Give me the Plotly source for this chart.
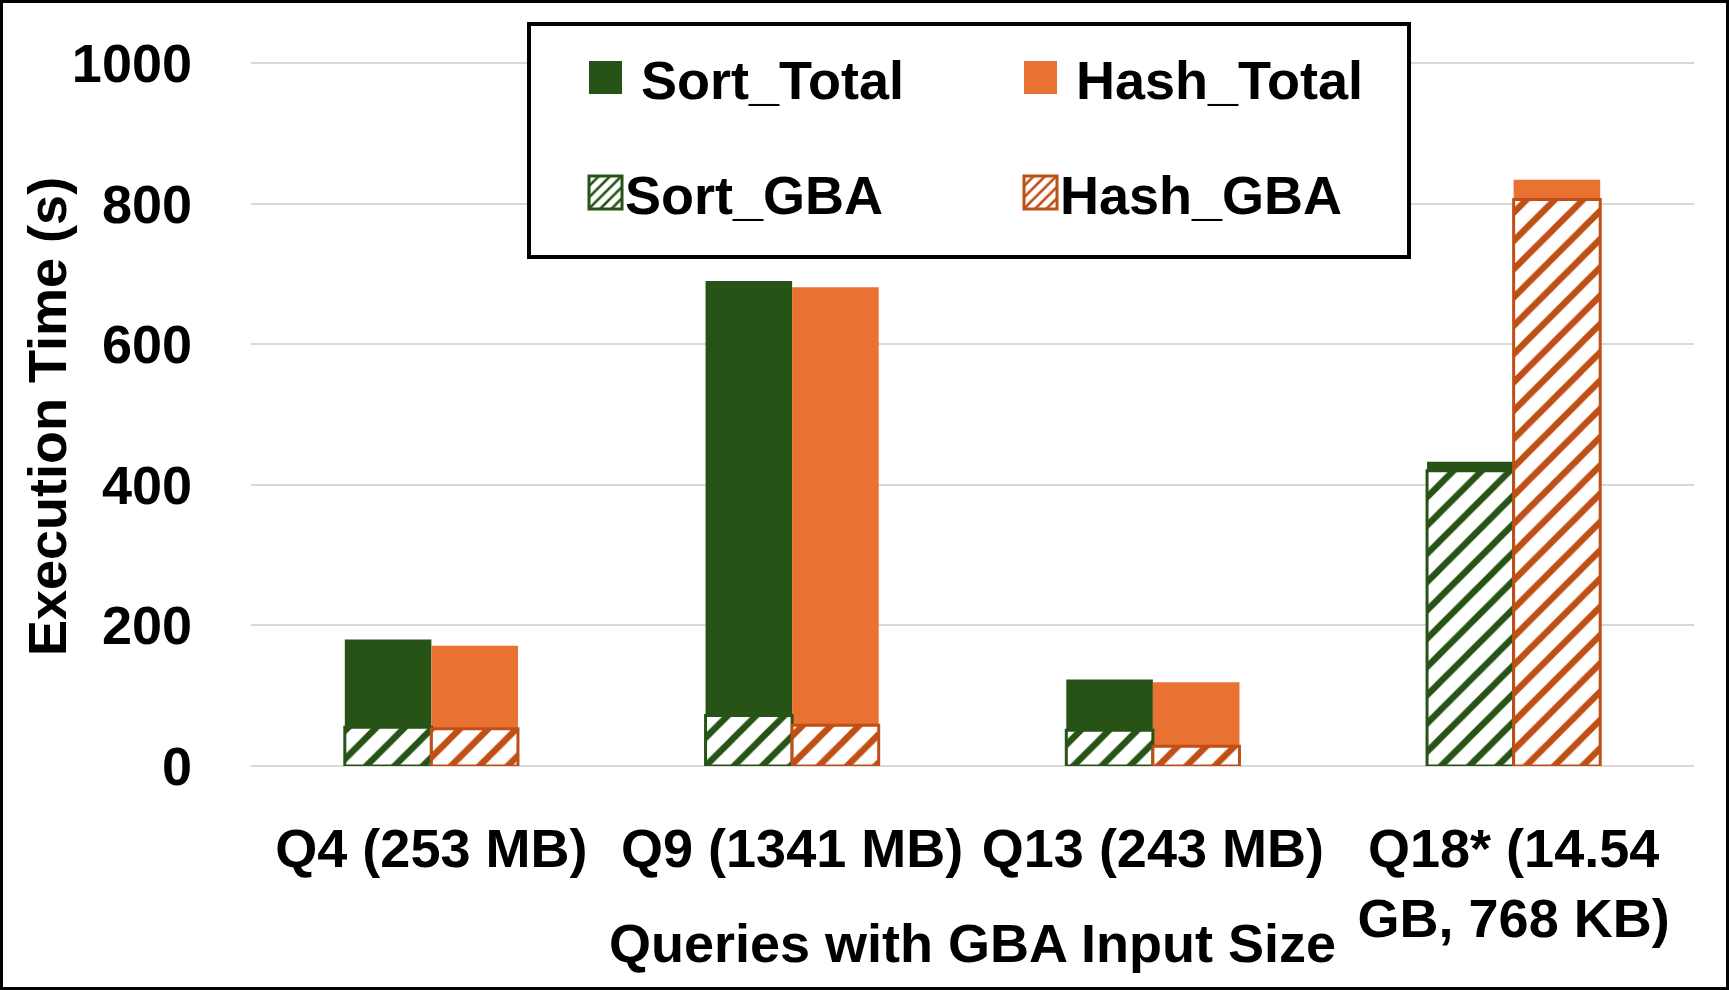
import plotly.graph_objects as go

categories = ["Q4 (253 MB)", "Q9 (1341 MB)", "Q13 (243 MB)", "Q18* (14.54<br>GB, 768 KB)"]
sort_total = [180, 690, 123, 433]
hash_total = [171, 681, 119, 834]
sort_gba = [55, 72, 51, 420]
hash_gba = [53, 58, 28, 806]

y_ticks = [0, 200, 400, 600, 800, 1000]

GREEN = "#275317"
ORANGE = "#E97132"
ORANGE_DARK = "#C04F15"

W, H = 1729, 990
ML, MR, MT, MB = 251, 35, 61, 224
PW, PH = W - ML - MR, H - MT - MB


def px_to_paper_x(px):
    return (px - ML) / PW


def px_to_paper_y(py):
    return (H - MB - py) / PH


FONT = dict(family="Liberation Sans, Arial, sans-serif", size=54, color="black", weight="bold")

fig = go.Figure()
fig.add_trace(go.Bar(name="Sort_Total", x=categories, y=sort_total, offsetgroup="sort",
                     marker=dict(color=GREEN, line=dict(width=0)), legend="legend"))
fig.add_trace(go.Bar(name="Hash_Total", x=categories, y=hash_total, offsetgroup="hash",
                     marker=dict(color=ORANGE, line=dict(width=0)), legend="legend"))
fig.add_trace(go.Bar(name="Sort_GBA", x=categories, y=sort_gba, offsetgroup="sort",
                     marker=dict(color=GREEN, line=dict(width=3, color=GREEN),
                                 pattern=dict(shape="/", size=20, solidity=0.32,
                                              fgcolor=GREEN, bgcolor="white", fillmode="replace")),
                     legend="legend2"))
fig.add_trace(go.Bar(name="Hash_GBA", x=categories, y=hash_gba, offsetgroup="hash",
                     marker=dict(color=ORANGE_DARK, line=dict(width=3, color=ORANGE_DARK),
                                 pattern=dict(shape="/", size=20, solidity=0.32,
                                              fgcolor=ORANGE_DARK, bgcolor="white", fillmode="replace")),
                     legend="legend2"))

legend_common = dict(orientation="h", xref="container", yref="container",
                     xanchor="left", yanchor="top", entrywidth=390,
                     bgcolor="rgba(0,0,0,0)", borderwidth=0, font=FONT)

fig.update_layout(
    width=W, height=H,
    margin=dict(l=ML, r=MR, t=MT, b=MB, pad=0, autoexpand=False),
    paper_bgcolor="white", plot_bgcolor="white",
    font=FONT,
    barmode="group", bargap=0.52, bargroupgap=0,
    legend=dict(x=585 / W, y=1 - 36 / H, **legend_common),
    legend2=dict(x=585 / W, y=1 - 151 / H, **legend_common),
    xaxis=dict(showgrid=False, showline=False, ticks="", tickfont=FONT,
               ticklabelstandoff=46, automargin=False),
    yaxis=dict(range=[0, 1003], tickvals=y_ticks, showgrid=True, gridcolor="#D9D9D9",
               gridwidth=2, zeroline=True, zerolinecolor="#D9D9D9", zerolinewidth=2,
               showline=False, ticks="", tickfont=FONT, ticklabelstandoff=58,
               automargin=False),
    annotations=[
        dict(text="Execution Time (s)", xref="paper", yref="paper",
             x=px_to_paper_x(47), y=px_to_paper_y(417), textangle=-90,
             showarrow=False, font=FONT, xanchor="center", yanchor="middle"),
        dict(text="Queries with GBA Input Size", xref="paper", yref="paper",
             x=0.5, y=px_to_paper_y(943), showarrow=False, font=FONT,
             xanchor="center", yanchor="middle"),
    ],
    shapes=[
        dict(type="rect", xref="paper", yref="paper", layer="above",
             x0=px_to_paper_x(529), x1=px_to_paper_x(1409),
             y0=px_to_paper_y(257), y1=px_to_paper_y(24),
             line=dict(color="black", width=4), fillcolor="white"),
        dict(type="rect", xref="paper", yref="paper", layer="above",
             x0=px_to_paper_x(1.5), x1=px_to_paper_x(W - 1.5),
             y0=px_to_paper_y(H - 1.5), y1=px_to_paper_y(1.5),
             line=dict(color="black", width=3), fillcolor="rgba(0,0,0,0)"),
    ],
)

# Page styling: remove the default body margin, enlarge the legend swatches
# and leave a gap between each swatch and its label.
post_js = """
document.body.style.margin = '0';
document.body.style.overflow = 'hidden';
var st = document.createElement('style');
st.textContent = 'text.legendtext { transform: translate(16px, 0px); }';
document.head.appendChild(st);
var gd = document.getElementById('{plot_id}');
function fixLegend() {
    gd.querySelectorAll('.legendpoints path').forEach(function(p) {
        p.setAttribute('d', 'M-16,16.5H17V-16.5H-16Z');
    });
}
fixLegend();
gd.on('plotly_afterplot', fixLegend);
setTimeout(fixLegend, 50);
setTimeout(fixLegend, 300);
"""

fig.write_html("out.html", post_script=post_js, config={"displayModeBar": False})
